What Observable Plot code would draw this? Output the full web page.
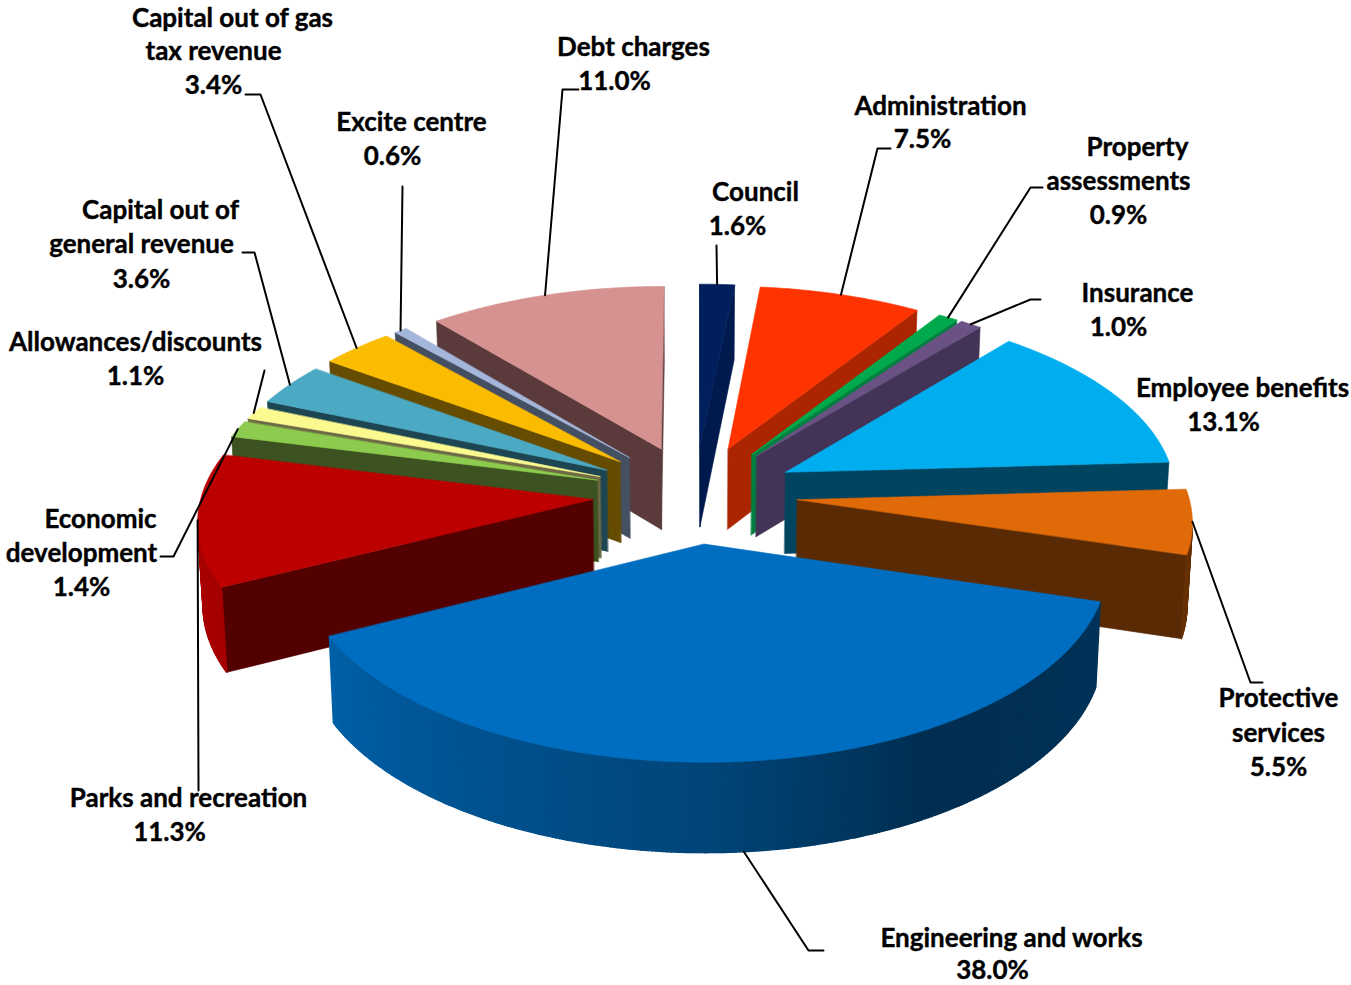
<!DOCTYPE html>
<html>
<head>
<meta charset="utf-8">
<title>Budget by function</title>
<script src="https://cdn.jsdelivr.net/npm/d3@7"></script>
<script src="https://cdn.jsdelivr.net/npm/@observablehq/plot@0.6"></script>
<style>
  html, body { margin: 0; padding: 0; background: #fff; }
  svg { display: block; }
</style>
</head>
<body>
<div id="chart"></div>
<script>
// Budget shares, clockwise from twelve o'clock
const categories = ["Council", "Administration", "Property assessments", "Insurance", "Employee benefits",
  "Protective services", "Engineering and works", "Parks and recreation", "Economic development",
  "Allowances/discounts", "Capital out of general revenue", "Capital out of gas tax revenue",
  "Excite centre", "Debt charges"];
const shares = [1.6, 7.5, 0.9, 1.0, 13.1, 5.5, 38.0, 11.3, 1.4, 1.1, 3.6, 3.4, 0.6, 11.0];

const topColors = ["#001f5c", "#ff3300", "#00aa4c", "#6b5285", "#00aeef", "#e06a08", "#006ec0",
  "#bc0000", "#8ccb4d", "#fafa90", "#4ba9c4", "#fbbc00", "#a4b6da", "#d69291"];
const cutColors = ["#001a4e", "#aa2500", "#008040", "#433357", "#004460", "#5a2a05", "#004a80",
  "#520000", "#3c5220", "#6d6a45", "#1e4652", "#654c00", "#454f62", "#5a3a3a"];

// Back-to-front order for the exploded slices
const paintOrder = [13, 0, 1, 2, 3, 12, 11, 10, 9, 8, 4, 7, 5, 6];

// Outer wall brightness by plan angle (degrees clockwise from the top)
const wallAngles = [86, 107, 150, 180, 215, 243, 270, 290];
const wallLevels = [0.45, 0.46, 0.42, 0.63, 0.76, 0.87, 0.93, 0.95];

// Text rows for every label: each row has its own centre
const labelRows = [
  [["Council", 755, 191], [null, 737, 225]],
  [["Administration", 940, 105], [null, 922, 138]],
  [["Property", 1137, 146], ["assessments", 1118, 180], [null, 1118, 214]],
  [["Insurance", 1137, 292], [null, 1118, 326]],
  [["Employee benefits", 1242, 387], [null, 1223, 421]],
  [["Protective", 1278, 697], ["services", 1278, 732], [null, 1278, 766]],
  [["Engineering and works", 1011, 937], [null, 992, 969]],
  [["Parks and recreation", 188, 797], [null, 169, 831]],
  [["Economic", 100, 518], ["development", 81, 552], [null, 81, 586]],
  [["Allowances/discounts", 135, 341], [null, 135, 375]],
  [["Capital out of", 160, 209], ["general revenue", 141, 243], [null, 141, 278]],
  [["Capital out of gas", 232, 17], ["tax revenue", 213, 50], [null, 213, 84]],
  [["Excite centre", 411, 121], [null, 392, 155]],
  [["Debt charges", 633, 46], [null, 614, 80]]
];

// Leader routes from each slice's rim to its label
const leaderRoutes = [
  [[716, 245]],
  [[877, 148], [890, 148]],
  [[1030, 187], [1042, 187]],
  [[1030, 299], [1040, 299]],
  [],
  [[1250, 682], [1262, 682]],
  [[808, 950], [823, 950]],
  [[198, 790]],
  [[173, 556], [160, 556]],
  [[264, 370]],
  [[254, 252], [242, 252]],
  [[260, 94], [245, 94]],
  [[402, 186]],
  [[562, 89], [578, 89]]
];

// Perspective camera for the tilted pie
const camera = {cx: 694.5, cy: 493.5, sx: 391, sy: 186.6, persp: 0.097, explode: 0.2626,
  depth: 82, depthPersp: 0.074, shrink: 0.011};

function project(X, Y, bottom) {
  const w = 1 - camera.persp * Y;
  let px = camera.cx + camera.sx * X / w;
  let py = camera.cy + camera.sy * Y / w;
  if (bottom) {
    px = camera.cx + (px - camera.cx) * (1 - camera.shrink);
    py += camera.depth / (1 - camera.depthPersp * Y);
  }
  return [px, py];
}

const total = d3.sum(shares);
const bounds = d3.cumsum(shares).map(v => v / total * 2 * Math.PI);
const slices = shares.map((v, i) => {
  const a0 = i ? bounds[i - 1] : 0, a1 = bounds[i], mid = (a0 + a1) / 2;
  return {i, a0, a1, mid, ox: camera.explode * Math.sin(mid), oy: -camera.explode * Math.cos(mid)};
});
const rimPoint = (s, a, bottom) => project(s.ox + Math.sin(a), s.oy - Math.cos(a), bottom);
const apexPoint = (s, bottom) => project(s.ox, s.oy, bottom);

// Positive when a polygon runs clockwise on screen
const signedArea = pts => -d3.polygonArea(pts);
const wallLevel = d3.scaleLinear(wallAngles, wallLevels).clamp(true);
const darken = (c, f) => { const r = d3.rgb(c); return d3.rgb(r.r * f, r.g * f, r.b * f).formatHex(); };

// Every visible face becomes one closed polygon, painted in order;
// wall strips get a heavier edge so that neighbours overlap without seams
const facets = [];
let facetId = 0;
function addFacet(points, color, edge) {
  const id = facetId++;
  for (const [px, py] of points) facets.push({id, px, py, color, edge});
}

for (const index of paintOrder) {
  const s = slices[index];
  const steps = Math.max(2, Math.ceil((s.a1 - s.a0) / (Math.PI / 360)));
  const angles = d3.range(steps + 1).map(k => s.a0 + (s.a1 - s.a0) * k / steps);

  const cut = a => [apexPoint(s, false), rimPoint(s, a, false), rimPoint(s, a, true), apexPoint(s, true)];
  const cutStart = cut(s.a0), cutEnd = cut(s.a1);
  if (signedArea(cutStart) < 0) addFacet(cutStart, cutColors[index], 0.6);
  if (signedArea(cutEnd) > 0) addFacet(cutEnd, cutColors[index], 0.6);

  for (let k = 0; k < steps; k++) {
    const a = angles[k], b = angles[k + 1];
    const strip = [rimPoint(s, a, false), rimPoint(s, b, false), rimPoint(s, b, true), rimPoint(s, a, true)];
    if (signedArea(strip) < 0) {
      const deg = (a + b) / 2 * 180 / Math.PI;
      addFacet(strip, darken(topColors[index], wallLevel(deg)), 1.4);
    }
  }

  addFacet([apexPoint(s, false), ...angles.map(a => rimPoint(s, a, false))], topColors[index], 0.6);
}

// Leader polylines start on the rim at the slice's mid angle
const leaders = [];
leaderRoutes.forEach((route, i) => {
  if (!route.length) return;
  const s = slices[i];
  const start = rimPoint(s, s.mid, categories[i] === "Engineering and works");
  [start, ...route].forEach(([px, py]) => leaders.push({i, px, py}));
});

const percent = d3.format(".1f");
const labels = labelRows.flatMap((rows, i) =>
  rows.map(([text, px, py]) => ({text: text ?? `${percent(shares[i])}%`, px, py})));

const chart = Plot.plot({
  width: 1351,
  height: 985,
  margin: 0,
  x: {domain: [0, 1351], range: [0, 1351], axis: null},
  y: {domain: [0, 985], range: [0, 985], axis: null},
  color: {type: "identity"},
  marks: [
    Plot.line(facets, {x: "px", y: "py", z: "id", fill: "color", stroke: "color",
      strokeWidth: "edge", curve: "linear-closed"}),
    Plot.line(leaders, {x: "px", y: "py", z: "i", stroke: "#000", strokeWidth: 2}),
    Plot.text(labels, {x: "px", y: "py", dy: 1, text: "text", fill: "#000", stroke: "#000", strokeWidth: 0.4,
      textAnchor: "middle", lineAnchor: "middle", fontFamily: "Lato", fontWeight: 700, fontSize: 26})
  ]
});
document.getElementById("chart").append(chart);
</script>
</body>
</html>
